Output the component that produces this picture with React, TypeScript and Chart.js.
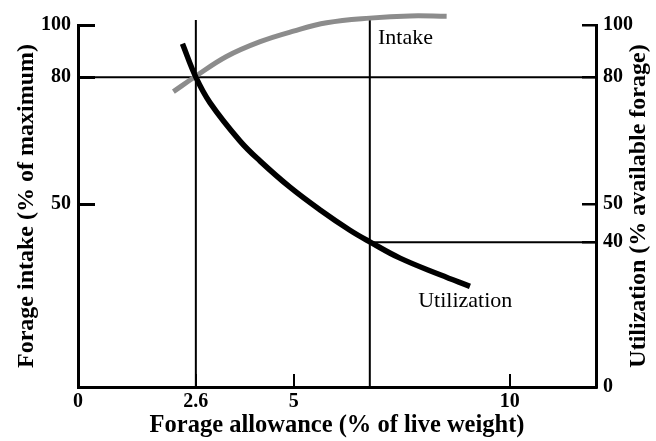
import React, { useEffect, useRef } from 'react';
import { Chart, registerables } from 'chart.js';

Chart.register(...registerables);

// Tick labels and where they sit on the (schematic) axes
const xTickLabels = ['0', '2.6', '5', '10'];
const xTickAt = [0, 2.73, 5, 10];
const leftTickLabels = ['50', '80', '100'];
const leftTickAt = [50.5, 85.6, 100];
const rightTickLabels = ['0', '40', '50', '80', '100'];
const rightTickAt = [0, 40, 50.5, 85.6, 100];

// Intake curve (grey)
const intakeX = [2.21, 2.71, 3.44, 4.22, 4.99, 5.76, 6.76, 7.69, 8.54];
const intakeY = [81.6, 85.7, 91.3, 95.4, 98.3, 100.6, 101.9, 102.5, 102.4];

// Utilization curve (black)
const utilX = [2.42, 2.73, 3.06, 3.75, 4.22, 4.91, 5.61, 6.3, 6.76, 7.46, 8.39, 9.08];
const utilY = [94.8, 85.6, 78.5, 68.0, 62.4, 55.2, 48.9, 43.3, 40.1, 35.6, 31.0, 27.8];

// Reference lines
const refAllowance = [2.73, 6.76];
const refTop = 101.4;
const refIntake80 = 85.6;
const refUtil40 = 40;

const xTitle = 'Forage allowance (% of live weight)';
const yLeftTitle = 'Forage intake (% of maximum)';
const yRightTitle = 'Utilization (% available forage)';
const curveLabels = [
  { text: 'Intake', x: 6.95, y: 96.4 },
  { text: 'Utilization', x: 7.88, y: 23.8 },
];

const SERIF = "'Liberation Serif', 'Times New Roman', serif";

const zip = (xs: number[], ys: number[]) => xs.map((x, i) => ({ x, y: ys[i] }));

const noPad = (s: any) => {
  s.paddingTop = 0;
  s.paddingBottom = 0;
  s.paddingLeft = 0;
  s.paddingRight = 0;
};

export default function App() {
  const ref = useRef<HTMLCanvasElement | null>(null);

  useEffect(() => {
    document.body.style.margin = '0';
    const canvas = ref.current;
    if (!canvas) return;

    const textPlugin = {
      id: 'texts',
      afterDraw(chart: any) {
        const ctx = chart.ctx;
        const xs = chart.scales.x;
        const ys = chart.scales.y;
        const y2 = chart.scales.y2;
        ctx.save();
        ctx.fillStyle = '#000';
        ctx.font = `22px ${SERIF}`;
        ctx.textAlign = 'left';
        ctx.textBaseline = 'middle';
        curveLabels.forEach((l) => {
          ctx.fillText(l.text, xs.getPixelForValue(l.x), ys.getPixelForValue(l.y));
        });
        // right axis title, reading bottom-to-top
        ctx.font = `bold 24px ${SERIF}`;
        ctx.textAlign = 'center';
        ctx.translate(y2.right - 17, (y2.top + y2.bottom) / 2);
        ctx.rotate(-Math.PI / 2);
        ctx.fillText(yRightTitle, 0, 0);
        ctx.restore();
      },
    };

    const lineDs = (data: { x: number; y: number }[]) => ({
      data,
      borderColor: '#000',
      borderWidth: 2,
      pointRadius: 0,
      clip: false,
      order: 5,
      fill: false,
    });

    const chart = new Chart(canvas, {
      type: 'line',
      data: {
        datasets: [
          {
            data: zip(utilX, utilY),
            borderColor: '#000',
            borderWidth: 5.5,
            pointRadius: 0,
            tension: 0.4,
            clip: false,
            order: 0,
            fill: false,
          } as any,
          {
            data: zip(intakeX, intakeY),
            borderColor: '#8c8c8c',
            borderWidth: 5,
            pointRadius: 0,
            tension: 0.4,
            clip: false,
            order: 1,
            fill: false,
          } as any,
          lineDs([{ x: refAllowance[0], y: 0 }, { x: refAllowance[0], y: refTop }]),
          lineDs([{ x: refAllowance[1], y: 0 }, { x: refAllowance[1], y: refTop }]),
          lineDs([{ x: 0, y: refIntake80 }, { x: 12, y: refIntake80 }]),
          lineDs([{ x: refAllowance[1], y: refUtil40 }, { x: 12, y: refUtil40 }]),
        ],
      },
      options: {
        animation: false,
        responsive: false,
        layout: { padding: { top: 25, left: 0, right: 0, bottom: 0 } },
        plugins: { legend: { display: false }, tooltip: { enabled: false } },
        scales: {
          x: {
            type: 'linear',
            position: 'bottom',
            min: 0,
            max: 12,
            afterBuildTicks: (s: any) => {
              s.ticks = xTickAt.map((v) => ({ value: v }));
            },
            afterFit: (s: any) => {
              s.height = 54;
              noPad(s);
            },
            border: { display: true, color: '#000', width: 3 },
            grid: { drawOnChartArea: false, drawTicks: true, tickLength: -13, lineWidth: 2, color: '#000' },
            ticks: {
              autoSkip: false,
              maxRotation: 0,
              padding: 16,
              color: '#000',
              font: { family: SERIF, size: 20, weight: 'bold' },
              callback: (_v: any, i: number) => xTickLabels[i],
            },
            title: {
              display: true,
              text: xTitle,
              color: '#000',
              font: { family: SERIF, size: 24.5, weight: 'bold' },
              padding: { top: 0, bottom: 1 },
            },
          },
          y: {
            type: 'linear',
            position: 'left',
            min: 0,
            max: 100,
            afterBuildTicks: (s: any) => {
              s.ticks = leftTickAt.map((v) => ({ value: v }));
            },
            afterFit: (s: any) => {
              s.width = 78;
              noPad(s);
            },
            border: { display: true, color: '#000', width: 3 },
            grid: { drawOnChartArea: false, drawTicks: true, tickLength: -17, lineWidth: 3, color: '#000' },
            ticks: {
              autoSkip: false,
              padding: 24,
              color: '#000',
              font: { family: SERIF, size: 20, weight: 'bold' },
              callback: (_v: any, i: number) => leftTickLabels[i],
            },
            title: {
              display: true,
              text: yLeftTitle,
              color: '#000',
              font: { family: SERIF, size: 24, weight: 'bold' },
              padding: { top: 12, bottom: 0 },
            },
          },
          y2: {
            type: 'linear',
            position: 'right',
            min: 0,
            max: 100,
            afterBuildTicks: (s: any) => {
              s.ticks = rightTickAt.map((v) => ({ value: v }));
            },
            afterFit: (s: any) => {
              s.width = 60;
              noPad(s);
            },
            border: { display: true, color: '#000', width: 3 },
            grid: { drawOnChartArea: false, drawTicks: true, tickLength: -14, lineWidth: 2.5, color: '#000' },
            ticks: {
              autoSkip: false,
              padding: 21,
              color: '#000',
              font: { family: SERIF, size: 20, weight: 'bold' },
              callback: (_v: any, i: number) => rightTickLabels[i],
            },
          },
        },
      } as any,
      plugins: [textPlugin],
    });

    return () => chart.destroy();
  }, []);

  return <canvas ref={ref} width={656} height={441} style={{ display: 'block' }} />;
}
